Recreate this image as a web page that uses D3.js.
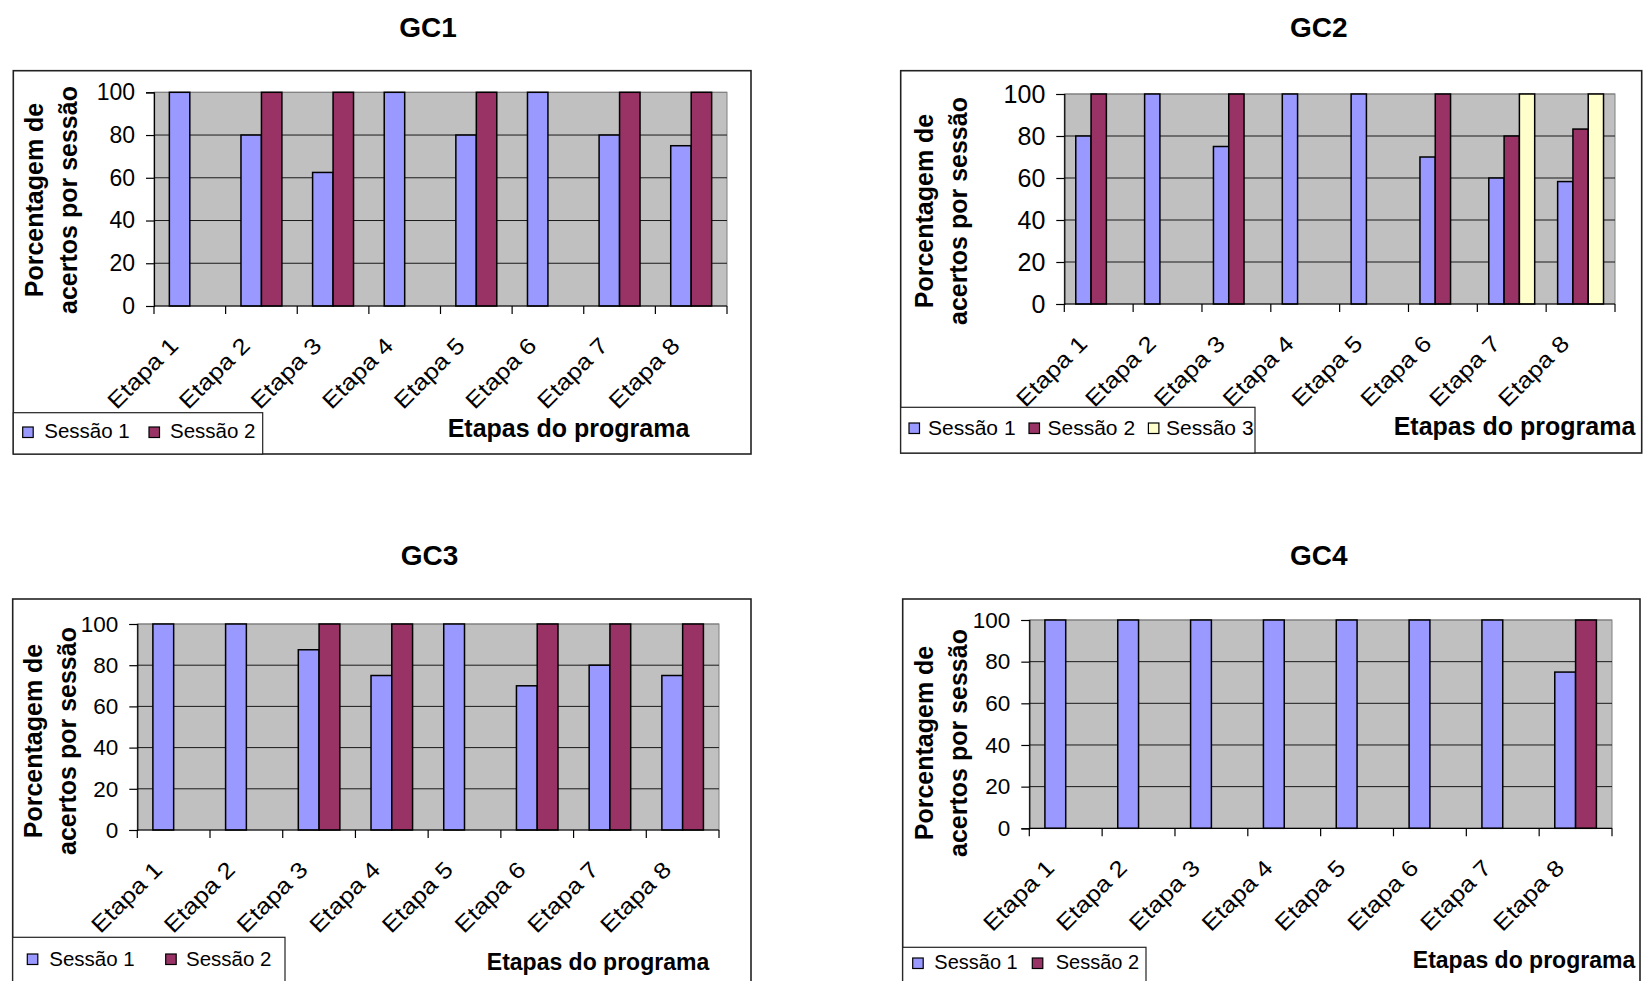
<!DOCTYPE html>
<html>
<head>
<meta charset="utf-8">
<script src="https://cdn.jsdelivr.net/npm/d3@7"></script>
<style>
  html, body { margin: 0; padding: 0; background: #fff; }
  svg { display: block; }
  text { font-family: "Liberation Sans", Arial, sans-serif; fill: #000; }
</style>
</head>
<body>
<svg id="chart" width="1643" height="981"></svg>
<script>
// ---------- data ----------
const categories = ["Etapa 1", "Etapa 2", "Etapa 3", "Etapa 4", "Etapa 5", "Etapa 6", "Etapa 7", "Etapa 8"];
const yTickValues = [0, 20, 40, 60, 80, 100];
const seriesNames = ["Sessão 1", "Sessão 2", "Sessão 3"];
const seriesColors = ["#9999FF", "#993366", "#FFFFCC"];
const yAxisTitle = ["Porcentagem de", "acertos por sessão"];
const xAxisTitle = "Etapas do programa";

const gc1Sessao1 = [100, 80, 62.5, 100, 80, 100, 80, 75];
const gc1Sessao2 = [null, 100, 100, null, 100, null, 100, 100];

const gc2Sessao1 = [80, 100, 75, 100, 100, 70, 60, 58.3];
const gc2Sessao2 = [100, null, 100, null, null, 100, 80, 83.3];
const gc2Sessao3 = [null, null, null, null, null, null, 100, 100];

const gc3Sessao1 = [100, 100, 87.5, 75, 100, 70, 80, 75];
const gc3Sessao2 = [null, null, 100, 100, null, 100, 100, 100];

const gc4Sessao1 = [100, 100, 100, 100, 100, 100, 100, 75];
const gc4Sessao2 = [null, null, null, null, null, null, null, 100];

// ---------- layout ----------
const panels = [
  { title: "GC1", series: [gc1Sessao1, gc1Sessao2],
    frame: [13.3, 70.7, 751, 454], plot: [154, 92.3, 727, 306],
    titleX: 428, titleY: 37, yt: { x1: 43, x2: 77, cy: 200 }, yTickFont: 23,
    xt: { x: 568.5, y: 437, size: 25 },
    legend: { box: [13.3, 412.7, 262.7, 454], items: [[22.7, 44.3], [149, 170]], swY: 427, baseY: 437.7, font: 20.5 } },
  { title: "GC2", series: [gc2Sessao1, gc2Sessao2, gc2Sessao3],
    frame: [900.7, 70.7, 1641.7, 453], plot: [1064.3, 94, 1615, 304],
    titleX: 1318.7, titleY: 37, yt: { x1: 933.3, x2: 967.3, cy: 211 }, yTickFont: 25,
    xt: { x: 1514.5, y: 435, size: 25 },
    legend: { box: [900.7, 407.3, 1255, 453], items: [[909, 928], [1029, 1047.5], [1148.4, 1166]], swY: 423, baseY: 434.5, font: 21 } },
  { title: "GC3", series: [gc3Sessao1, gc3Sessao2],
    frame: [12.7, 599, 751, 1000], plot: [137.3, 624, 719, 830],
    titleX: 429.5, titleY: 565, yt: { x1: 41.7, x2: 76, cy: 741 }, yTickFont: 22.5,
    xt: { x: 598, y: 970, size: 23 },
    legend: { box: [12.7, 937.3, 285, 1000], items: [[27.3, 49.3], [165.7, 186]], swY: 954, baseY: 966, font: 20.5 } },
  { title: "GC4", series: [gc4Sessao1, gc4Sessao2],
    frame: [902.7, 599, 1640, 1000], plot: [1029.3, 620, 1612, 828.3],
    titleX: 1318.7, titleY: 565, yt: { x1: 932.7, x2: 967.3, cy: 743 }, yTickFont: 22.5,
    xt: { x: 1524, y: 968, size: 23 },
    legend: { box: [902.7, 947.3, 1146, 1000], items: [[912.7, 934.3], [1032.3, 1055.7]], swY: 958, baseY: 969, font: 20 } }
];

const svg = d3.select("#chart");

panels.forEach(p => {
  const g = svg.append("g");
  const [fx0, fy0, fx1, fy1] = p.frame;
  const [px0, py0, px1, py1] = p.plot;

  // frame
  g.append("rect").attr("x", fx0).attr("y", fy0).attr("width", fx1 - fx0).attr("height", fy1 - fy0)
    .attr("fill", "#fff").attr("stroke", "#222").attr("stroke-width", 1.6);

  // title
  g.append("text").attr("x", p.titleX).attr("y", p.titleY).attr("text-anchor", "middle")
    .attr("font-size", 28).attr("font-weight", "bold").text(p.title);

  const x = d3.scaleBand().domain(categories).range([px0, px1]).padding(0);
  const y = d3.scaleLinear().domain([0, 100]).range([py1, py0]);
  const nS = p.series.length;
  const inner = d3.scaleBand().domain(d3.range(nS)).range([0, x.bandwidth()])
    .paddingInner(0).paddingOuter(0.75);

  // plot area
  g.append("rect").attr("x", px0).attr("y", py0).attr("width", px1 - px0).attr("height", py1 - py0)
    .attr("fill", "#C0C0C0").attr("stroke", "#808080").attr("stroke-width", 1);

  // gridlines
  g.append("g").selectAll("line").data(yTickValues.filter(v => v > 0)).join("line")
    .attr("x1", px0).attr("x2", px1).attr("y1", d => y(d)).attr("y2", d => y(d))
    .attr("stroke", d => d === 100 ? "#808080" : "#1a1a1a").attr("stroke-width", 1);

  // bars
  p.series.forEach((vals, si) => {
    g.append("g").selectAll("rect")
      .data(categories.map((c, i) => ({ c, v: vals[i] })).filter(d => d.v != null))
      .join("rect")
      .attr("x", d => x(d.c) + inner(si))
      .attr("y", d => y(d.v))
      .attr("width", inner.bandwidth())
      .attr("height", d => y(0) - y(d.v))
      .attr("fill", seriesColors[si]).attr("stroke", "#000").attr("stroke-width", 1.5);
  });

  // y axis
  const yAxis = d3.axisLeft(y).tickValues(yTickValues).tickSize(8).tickPadding(11).tickFormat(d3.format("d"));
  const ya = g.append("g").attr("transform", `translate(${px0},0)`).call(yAxis);
  ya.select(".domain").attr("stroke", "#000").attr("stroke-width", 1.2);
  ya.selectAll(".tick line").attr("stroke", "#000").attr("stroke-width", 1.2);
  ya.selectAll(".tick text").attr("font-size", p.yTickFont)
    .attr("font-family", '"Liberation Sans", Arial, sans-serif').attr("fill", "#000");

  // x axis (ticks at category boundaries)
  const xa = g.append("g").attr("transform", `translate(0,${py1})`);
  xa.append("line").attr("x1", px0).attr("x2", px1).attr("stroke", "#000").attr("stroke-width", 1.2);
  const bounds = categories.map(c => x(c)).concat([px1]);
  xa.selectAll("line.tk").data(bounds).join("line").attr("class", "tk")
    .attr("x1", d => d).attr("x2", d => d).attr("y1", 0).attr("y2", 8)
    .attr("stroke", "#000").attr("stroke-width", 1.2);
  xa.selectAll("text").data(categories).join("text")
    .attr("transform", d => `translate(${x(d) + x.bandwidth() / 2 - 10},41) rotate(-45) scale(1.08,0.94)`)
    .attr("text-anchor", "end").attr("font-size", 24).text(d => d);

  // y axis title
  [p.yt.x1, p.yt.x2].forEach((bx, li) => {
    g.append("text").attr("transform", `translate(${bx},${p.yt.cy}) rotate(-90)`)
      .attr("text-anchor", "middle").attr("font-size", 25).attr("font-weight", "bold")
      .text(yAxisTitle[li]);
  });

  // x axis title
  g.append("text").attr("x", p.xt.x).attr("y", p.xt.y).attr("text-anchor", "middle")
    .attr("font-size", p.xt.size).attr("font-weight", "bold").text(xAxisTitle);

  // legend
  const L = p.legend;
  g.append("rect").attr("x", L.box[0]).attr("y", L.box[1]).attr("width", L.box[2] - L.box[0])
    .attr("height", L.box[3] - L.box[1]).attr("fill", "#fff").attr("stroke", "#222").attr("stroke-width", 1.2);
  L.items.forEach(([sx, tx], i) => {
    g.append("rect").attr("x", sx).attr("y", L.swY).attr("width", 10.5).attr("height", 10.5)
      .attr("fill", seriesColors[i]).attr("stroke", "#000").attr("stroke-width", 1.2);
    g.append("text").attr("x", tx).attr("y", L.baseY).attr("font-size", L.font).text(seriesNames[i]);
  });
});
</script>
</body>
</html>
